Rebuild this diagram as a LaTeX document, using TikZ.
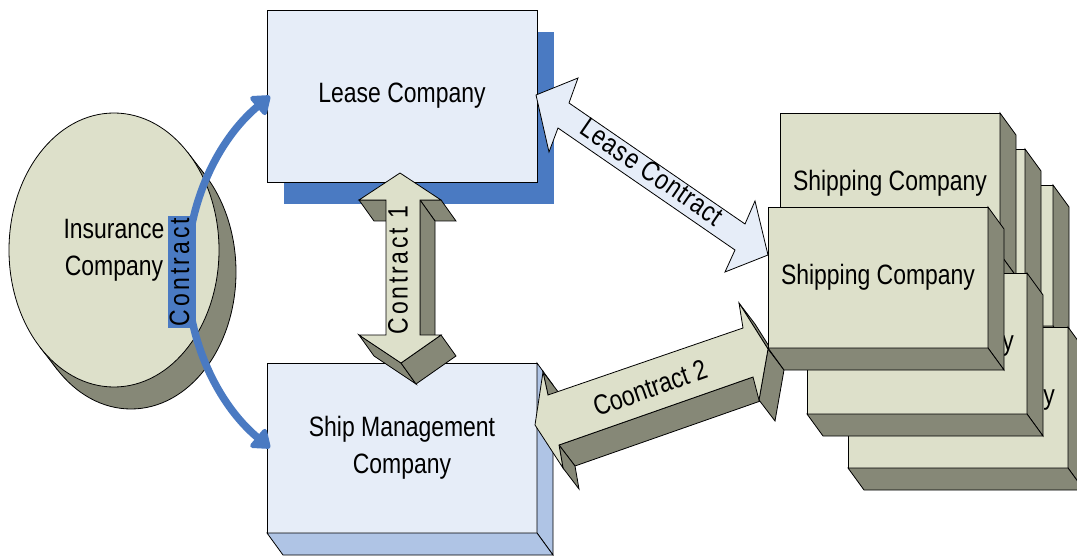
\documentclass[tikz,border=0pt]{standalone}
\usepackage{fontspec}
\setmainfont{Liberation Sans}[FakeStretch=0.82]
\usetikzlibrary{arrows.meta,shapes.geometric,shadows}

\definecolor{paleblue}{HTML}{E6EDF8}
\definecolor{midblue}{HTML}{4A7AC2}
\definecolor{sideblue}{HTML}{AFC4E5}
\definecolor{olive}{HTML}{DDE0CA}
\definecolor{darkolive}{HTML}{868877}

% a shipping company block: front face node plus right and bottom faces
\newcommand\shipbox[4]{%
  \node[shipfront] (#1) at (#2,#3) {#4};
  \path[darkface] (#1.north east) -- ++(16,22) -- ([shift={(16,22)}]#1.south east) -- (#1.south east) -- cycle;
  \path[darkface] (#1.south west) -- ++(16,22) -- ([shift={(16,22)}]#1.south east) -- (#1.south east) -- cycle;
}

\begin{document}
\begin{tikzpicture}[x=1pt, y=-1pt, line width=0.8pt,
  every node/.style={font=\fontsize{28}{37}\selectfont, outer sep=0pt},
  darkface/.style={draw=black, fill=darkolive, line width=0.8pt},
  lightface/.style={draw=black, fill=olive, line width=0.8pt},
  blueface/.style={draw=black, fill=sideblue, line width=0.8pt},
  shipfront/.style={draw=black, fill=olive, minimum width=220, minimum height=141,
    anchor=north west, inner sep=0pt},
  bluearc/.style={draw=midblue, line width=7.5pt, -{Triangle[length=19pt,width=27pt,round]}}
]
\path[fill=white] (0,0) rectangle (1077,556);
\useasboundingbox (0,0) rectangle (1077,556);

% insurance company: ellipse with extruded shadow
\path[darkface] (131,272) ellipse [x radius=105, y radius=137];
\fill[darkolive] (187.9,152.7) -- (204.9,174.7) -- (57.1,369.3) -- (40.1,347.3) -- cycle;
\draw (187.9,152.7) -- (204.9,174.7) (40.1,347.3) -- (57.1,369.3);
\node[lightface, ellipse, minimum width=210, minimum height=274, inner sep=0pt, align=center]
  (ins) at (114,250) {Insurance\\Company};

% lease company with flat blue shadow
\node[draw=black, fill=paleblue, minimum width=270, minimum height=172, anchor=north west,
  drop shadow={shadow xshift=17pt, shadow yshift=-22pt, fill=midblue, opacity=1}]
  (lease) at (267,10) {Lease Company};

% ship management company block
\node[draw=black, fill=paleblue, minimum width=270, minimum height=170, anchor=north west,
  align=center] (mgmt) at (267,363) {Ship Management\\Company};
\path[blueface] (mgmt.north east) -- ++(16,22) -- ([shift={(16,22)}]mgmt.south east) -- (mgmt.south east) -- cycle;
\path[blueface] (mgmt.south west) -- ++(16,22) -- ([shift={(16,22)}]mgmt.south east) -- (mgmt.south east) -- cycle;

% insurance contract arcs
\coordinate (arcmid) at (187,272);
\draw[bluearc] (arcmid) .. controls (187,204) and (217.5,140) .. ([xshift=3]lease.west);
\draw[bluearc] (arcmid) .. controls (187,340) and (217.5,404) .. ([xshift=3]mgmt.west);
\node[fill=midblue, rotate=90, minimum width=112, minimum height=28, inner sep=0pt,
  text height=21pt, text depth=7pt] (inslabel) at (182,272)
  {\addfontfeatures{LetterSpace=11}Contract};

% contract 1: vertical extruded double arrow
\path[darkface] (386,200) -- (359,200) -- (374,221) -- (401,221) -- cycle;
\path[darkface] (441,200) -- (420,200) -- (435,221) -- (456,221) -- cycle;
\path[darkface] (420,200) -- (420,335) -- (435,356) -- (435,221) -- cycle;
\path[darkface] (401,363) -- (359,335) -- (374,356) -- (416,384) -- cycle;
\path[darkface] (441,335) -- (401,363) -- (416,384) -- (456,356) -- cycle;
\path[lightface] (400,173) -- (441,200) -- (420,200) -- (420,335) -- (441,335) -- (401,363)
  -- (359,335) -- (386,335) -- (386,200) -- (359,200) -- cycle;
\node[rotate=90] (c1label) at (398,270) {\addfontfeatures{LetterSpace=10}Contract 1};

% lease contract: flat double arrow
\path[draw=black, fill=paleblue] (536,95) -- (578,78) -- (569,103) -- (745,224) -- (755,201)
  -- (768,255) -- (725,272) -- (735,250) -- (558,128) -- (549,152) -- cycle;
\node[rotate=-34.6] (leaselabel) at (652,172) {\addfontfeatures{LetterSpace=3}Lease Contract};

% contract 2: slanted extruded double arrow
\path[darkface] (543,372) -- (548,395) -- (564,416) -- (559,393) -- cycle;
\path[darkface] (753,377) -- (559,445) -- (575,466) -- (769,398) -- cycle;
\path[darkface] (559,445) -- (563,468) -- (579,489) -- (575,466) -- cycle;
\path[darkface] (739,303) -- (768,349) -- (784,370) -- (755,324) -- cycle;
\path[darkface] (768,349) -- (759,400) -- (775,421) -- (784,370) -- cycle;
\path[lightface] (535,425) -- (543,372) -- (548,395) -- (743,328) -- (739,303) -- (768,349)
  -- (759,400) -- (753,377) -- (559,445) -- (563,468) -- cycle;
\node[rotate=19.5] (c2label) at (650,388) {Coontract 2};

% stack of shipping companies, back to front
\shipbox{shipc}{833}{185}{}
\shipbox{shipb}{805}{149}{}
\shipbox{shipa}{780}{113}{Shipping Company}
\shipbox{shipe}{848}{327}{Shipping Company}
\shipbox{shipd}{807}{273}{Shipping Company}
\shipbox{shipf}{768}{207}{Shipping Company}
\end{tikzpicture}
\end{document}
